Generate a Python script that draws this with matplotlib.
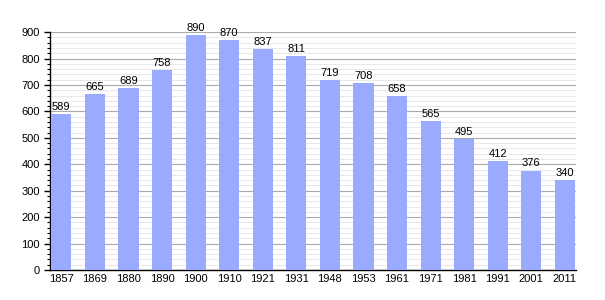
import matplotlib
matplotlib.use('Agg')
import matplotlib.pyplot as plt
from matplotlib.ticker import MultipleLocator

years = ['1857', '1869', '1880', '1890', '1900', '1910', '1921', '1931',
         '1948', '1953', '1961', '1971', '1981', '1991', '2001', '2011']
population = [589, 665, 689, 758, 890, 870, 837, 811,
              719, 708, 658, 565, 495, 412, 376, 340]

plt.rcParams['font.family'] = ['Liberation Sans', 'DejaVu Sans']

fig = plt.figure(figsize=(6.05, 3.0), dpi=100)
ax = fig.add_axes([0.083, 0.1, 0.869, 0.793])

x = list(range(len(years)))
ax.bar(x, population, width=0.6, color='#99aaff', zorder=3)
for xi, v in zip(x, population):
    ax.text(xi, v + 8, str(v), ha='center', va='bottom', fontsize=8, zorder=4)

ax.set_xlim(-0.33, len(years) - 0.67)
ax.set_ylim(0, 900)
ax.set_xticks(x)
ax.set_xticklabels(years, fontsize=8)
ax.yaxis.set_major_locator(MultipleLocator(100))
ax.yaxis.set_minor_locator(MultipleLocator(20))
ax.tick_params(axis='y', which='major', labelsize=8, length=4, width=1)
ax.tick_params(axis='y', which='minor', length=2, width=0.8)
ax.tick_params(axis='x', length=0, pad=3)

ax.grid(axis='y', which='major', color='#aaaaaa', linewidth=0.8, zorder=1)
ax.grid(axis='y', which='minor', color='#e4e4e4', linewidth=0.6, zorder=0)

for side in ('top', 'right'):
    ax.spines[side].set_visible(False)
ax.spines['left'].set_linewidth(1.0)
ax.spines['bottom'].set_linewidth(1.0)

fig.savefig('out.png', dpi=100)
